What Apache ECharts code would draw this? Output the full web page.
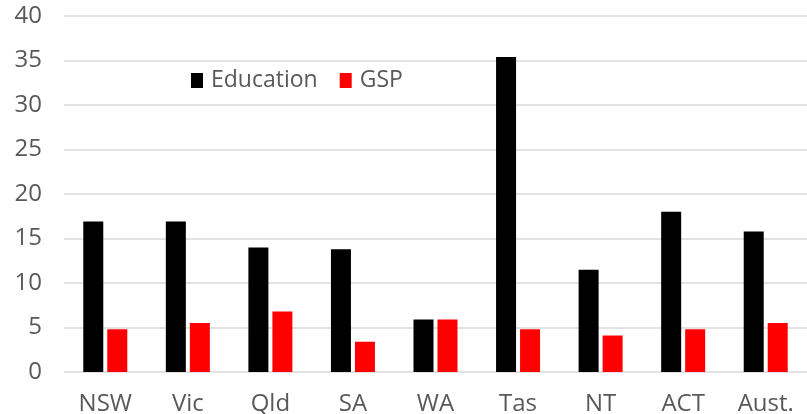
<!DOCTYPE html>
<html>
<head>
<meta charset="utf-8">
<script src="https://cdn.jsdelivr.net/npm/echarts@6/dist/echarts.min.js"></script>
<style>html,body{margin:0;padding:0;background:#fff;}#chart{width:807px;height:414px;}</style>
</head>
<body>
<div id="chart"></div>
<script>
var categories = ['NSW', 'Vic', 'Qld', 'SA', 'WA', 'Tas', 'NT', 'ACT', 'Aust.'];
var education = [16.9, 16.9, 14.0, 13.8, 5.9, 35.4, 11.5, 18.0, 15.8];
var gsp = [4.8, 5.5, 6.8, 3.4, 5.9, 4.8, 4.1, 4.8, 5.5];
var yTicks = { min: 0, max: 40, interval: 5 };

var chart = echarts.init(document.getElementById('chart'), null, { renderer: 'canvas' });
var font = 'Open Sans';
chart.setOption({
  animation: false,
  grid: { left: 64, right: 0, top: 16, bottom: 42, containLabel: false, outerBoundsMode: 'none' },
  legend: {
    left: 186, top: 64,
    itemWidth: 12, itemHeight: 15, itemGap: 22,
    icon: 'rect',
    textStyle: { fontFamily: font, fontSize: 23, color: '#595959', padding: [0, 0, 0, 3] },
    data: ['Education', 'GSP']
  },
  xAxis: {
    type: 'category',
    data: categories,
    axisLine: { show: false },
    axisTick: { show: false },
    axisLabel: { fontFamily: font, fontSize: 24, color: '#595959', margin: 20 }
  },
  yAxis: {
    type: 'value',
    min: yTicks.min, max: yTicks.max, interval: yTicks.interval,
    axisLine: { show: false },
    axisTick: { show: false },
    axisLabel: { fontFamily: font, fontSize: 24, color: '#595959', margin: 22 },
    splitLine: { lineStyle: { color: '#d9d9d9', width: 1.5 } }
  },
  series: [
    { name: 'Education', type: 'bar', data: education, barWidth: 20, barGap: '20%', itemStyle: { color: '#000000' } },
    { name: 'GSP', type: 'bar', data: gsp, barWidth: 20, barGap: '20%', itemStyle: { color: '#ff0000' } }
  ]
});
</script>
</body>
</html>
